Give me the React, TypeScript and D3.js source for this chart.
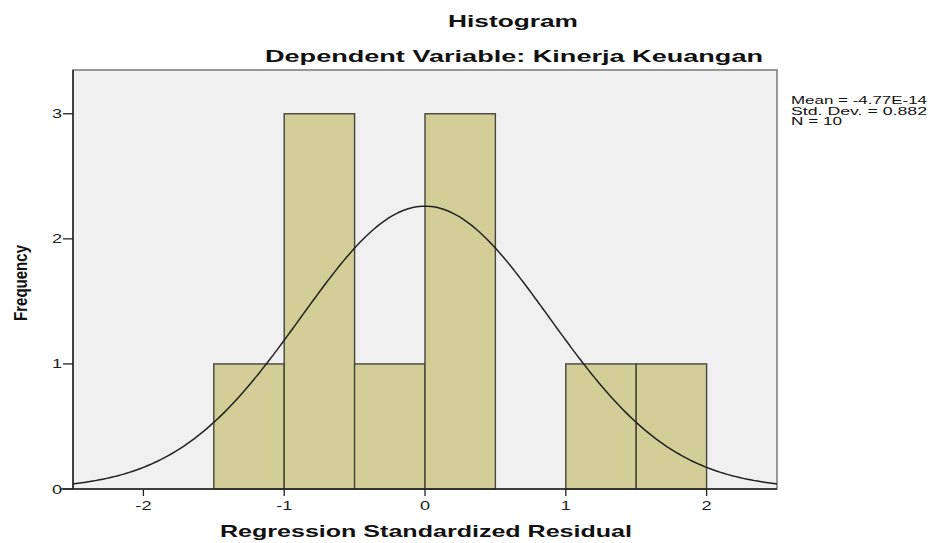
import React from 'react';
import * as d3 from 'd3';

// bin edges and counts
const binStarts = [-1.5, -1.0, -0.5, 0.0, 0.5, 1.0, 1.5];
const binCounts = [1, 3, 1, 3, 0, 1, 1];
const binWidth = 0.5;
const xTicks = [-2, -1, 0, 1, 2];
const yTicks = [0, 1, 2, 3];
const statLines = ['Mean = -4.77E-14', 'Std. Dev. = 0.882', 'N = 10'];
const statWidths = [136, 136, 51];
const mean = -4.77e-14;
const sd = 0.882;
const n = 10;

const W = 935;
const H = 543;
const left = 73;
const right = 777;
const top = 70;
const bottom = 489;

const App: React.FC = () => {
  const x = d3.scaleLinear().domain([-2.5, 2.5]).range([left, right]);
  const y = d3.scaleLinear().domain([0, 3.35]).range([bottom, top]);

  // normal curve scaled to the histogram
  const pts = d3.range(-2.5, 2.5001, 0.02).map((v) => {
    const z = (v - mean) / sd;
    return [v, (n * binWidth) / (sd * Math.sqrt(2 * Math.PI)) * Math.exp(-0.5 * z * z)] as [number, number];
  });
  const curve = d3.line<[number, number]>()
    .x((d) => x(d[0]))
    .y((d) => y(d[1]))(pts) as string;

  const font = 'Liberation Sans, Arial, sans-serif';
  const fmt = (t: number) => (t < 0 ? '-' + Math.abs(t) : String(t));

  return (
    <svg width={W} height={H} style={{ position: 'absolute', left: 0, top: 0, background: '#fff' }} fontFamily={font}>
      <rect x={left} y={top} width={right - left} height={bottom - top} fill="#f0f0f0" stroke="#7a7a7a" strokeWidth={1.5} />
      {binStarts.map((b, i) =>
        binCounts[i] > 0 ? (
          <rect key={i} x={x(b)} y={y(binCounts[i])} width={x(b + binWidth) - x(b)} height={y(0) - y(binCounts[i])}
            fill="#d3ce98" stroke="#45453a" strokeWidth={1.4} />
        ) : null
      )}
      <path d={curve} fill="none" stroke="#222" strokeWidth={1.5} />
      {/* axes */}
      <line x1={left} x2={left} y1={top} y2={bottom} stroke="#222" strokeWidth={1.5} />
      <line x1={61} x2={right} y1={bottom} y2={bottom} stroke="#222" strokeWidth={1.5} />
      {yTicks.map((t) => (
        <g key={t}>
          <line x1={left - 10} x2={left} y1={y(t)} y2={y(t)} stroke="#222" strokeWidth={1.3} />
          <text transform={`translate(${left - 11},${y(t) + 4.5}) scale(1.45,1)`} textAnchor="end" fontSize={12.5} fill="#222">{fmt(t)}</text>
        </g>
      ))}
      {xTicks.map((t) => (
        <g key={t}>
          <line x1={x(t)} x2={x(t)} y1={bottom} y2={bottom + 7} stroke="#222" strokeWidth={1.3} />
          <text transform={`translate(${x(t)},${bottom + 21}) scale(1.45,1)`} textAnchor="middle" fontSize={12.5} fill="#222">{fmt(t)}</text>
        </g>
      ))}
      <text x={448} y={27} fontSize={17} fontWeight="bold" fill="#111" textLength={130} lengthAdjust="spacingAndGlyphs">Histogram</text>
      <text x={265} y={62} fontSize={17} fontWeight="bold" fill="#111" textLength={498} lengthAdjust="spacingAndGlyphs">Dependent Variable: Kinerja Keuangan</text>
      <text x={220} y={537} fontSize={16.5} fontWeight="bold" fill="#111" textLength={412} lengthAdjust="spacingAndGlyphs">Regression Standardized Residual</text>
      <text transform="translate(27,321) rotate(-90)" fontSize={18} fontWeight="bold" fill="#111" textLength={76} lengthAdjust="spacingAndGlyphs">Frequency</text>
      {statLines.map((s, i) => (
        <text key={i} x={791} y={104 + i * 10.5} fontSize={10.5} fill="#111" textLength={statWidths[i]} lengthAdjust="spacingAndGlyphs">{s}</text>
      ))}
    </svg>
  );
};

export default App;
